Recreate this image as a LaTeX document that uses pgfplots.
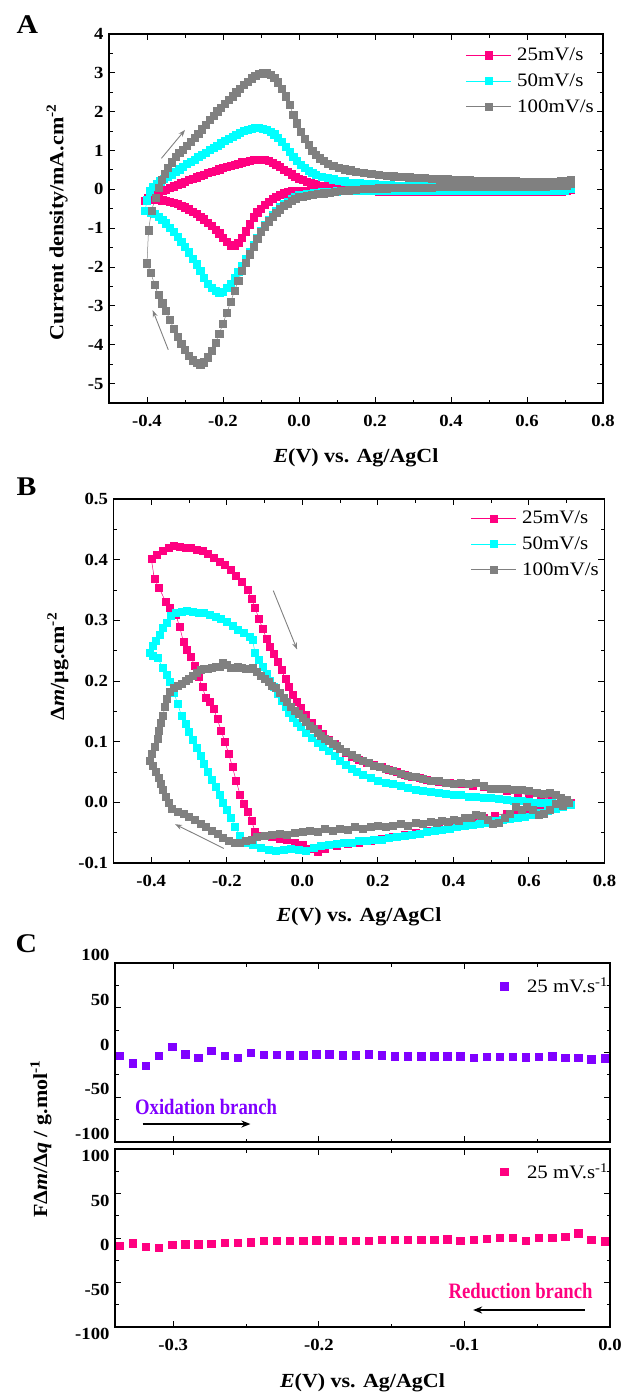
\documentclass[border=0pt]{standalone}
\usepackage{fontspec}
\setmainfont{Liberation Serif}[FakeStretch=1.1]
\newfontfamily\condensed{Liberation Serif}[FakeStretch=0.85]
\usepackage{pgfplots}
\pgfplotsset{compat=1.18}
\usetikzlibrary{arrows.meta}
\definecolor{cpink}{RGB}{255,0,128}
\definecolor{ccyan}{RGB}{0,255,255}
\definecolor{cgrey}{RGB}{128,128,128}
\definecolor{cpurple}{RGB}{128,0,255}
\pgfplotsset{
 myaxis/.style={
   scale only axis,
   axis line style={line width=1.4pt},
   every tick/.append style={line width=1pt, black},
   tick align=inside,
   xtick pos=both, ytick pos=both,
   major tick length=6pt, minor tick length=3.5pt,
   /pgf/number format/assume math mode=true,
   tick label style={font=\fontsize{17}{17}\selectfont\bfseries},
   xticklabel style={yshift=-9pt},
   yticklabel style={xshift=-2pt},
   label style={font=\fontsize{20}{22}\selectfont\bfseries},
   legend style={font=\fontsize{19}{19}\selectfont, draw=none, fill=none, inner sep=0pt, row sep=11.5pt, nodes={inner sep=0pt}, /tikz/every odd column/.append style={column sep=5.5pt}},
   legend cell align=left,
   legend image code/.code={\draw[mark repeat=2,mark phase=2,#1] plot coordinates {(0pt,0pt) (22.5pt,0pt) (45pt,0pt)};},
 },
 cv/.style={line width=0.5pt, color=#1, mark=square*, mark size=3.6pt, mark options={solid, fill=#1, draw=#1}},
 cvb/.style={line width=0.5pt, color=#1, mark=square*, mark size=3.5pt, mark options={solid, fill=#1, draw=#1}},
 fq/.style={only marks, mark=square*, mark size=3.7pt, mark options={fill=#1, draw=#1}, color=#1},
}
\begin{document}
\begin{tikzpicture}
\path[use as bounding box] (0pt,0pt) rectangle (624pt,-1393pt);
\node[font=\fontsize{27}{27}\selectfont\bfseries, anchor=base west] at (13pt,-33pt) {A};
\node[font=\fontsize{27}{27}\selectfont\bfseries, anchor=base west] at (13pt,-495pt) {B};
\node[font=\fontsize{27}{27}\selectfont\bfseries, anchor=base west] at (12pt,-952pt) {C};
% ---------------- Panel A
\begin{axis}[myaxis, at={(109pt,-403pt)}, anchor=south west, width=494pt, height=369pt,
 xmin=-0.5, xmax=0.8, ymin=-5.5, ymax=4,
 xtick={-0.4,-0.2,0,0.2,0.4,0.6,0.8}, minor xtick={-0.5,-0.3,-0.1,0.1,0.3,0.5,0.7},
 ytick={-5,-4,-3,-2,-1,0,1,2,3,4}, minor ytick={-4.5,-3.5,-2.5,-1.5,-0.5,0.5,1.5,2.5,3.5},
 xticklabel style={/pgf/number format/.cd, fixed, fixed zerofill, precision=1, /tikz/.cd},
 xlabel={\textit{E}(V) vs. Ag/AgCl},
 xlabel style={at={(axis description cs:0.5,-0.16)}, anchor=base},
 ylabel={Current density/mA.cm\textsuperscript{-2}},
 ylabel style={at={(axis description cs:-0.105,0.489)}, anchor=center},
 legend style={at={(axis description cs:0.7227,0.962)}, anchor=north west},
]
\addplot[cv=cpink] table {
-0.405 -0.30
-0.398 -0.22
-0.390 -0.17
-0.380 -0.12
-0.370 -0.08
-0.360 -0.04
-0.350 0.00
-0.340 0.04
-0.330 0.08
-0.320 0.12
-0.310 0.16
-0.300 0.20
-0.290 0.24
-0.280 0.28
-0.270 0.31
-0.260 0.35
-0.250 0.38
-0.240 0.42
-0.230 0.45
-0.220 0.48
-0.210 0.52
-0.200 0.55
-0.190 0.58
-0.180 0.61
-0.170 0.64
-0.160 0.67
-0.150 0.70
-0.140 0.72
-0.130 0.74
-0.120 0.76
-0.110 0.77
-0.100 0.77
-0.090 0.76
-0.080 0.73
-0.070 0.69
-0.060 0.64
-0.050 0.58
-0.040 0.51
-0.030 0.45
-0.020 0.39
-0.010 0.33
0.000 0.28
0.010 0.24
0.020 0.20
0.030 0.17
0.045 0.13
0.060 0.10
0.075 0.08
0.090 0.06
0.110 0.04
0.130 0.03
0.150 0.02
0.170 0.02
0.190 0.01
0.210 0.01
0.230 0.01
0.250 0.00
0.270 0.00
0.290 0.00
0.310 0.00
0.330 0.00
0.350 0.00
0.370 0.00
0.390 0.00
0.410 0.00
0.430 0.00
0.450 0.00
0.470 0.00
0.490 0.00
0.510 0.00
0.530 0.00
0.550 0.00
0.570 0.00
0.590 0.00
0.610 0.00
0.630 0.00
0.650 0.00
0.670 0.00
0.690 0.00
0.705 0.01
0.715 0.03
0.715 -0.01
0.705 -0.04
0.690 -0.05
0.670 -0.05
0.650 -0.05
0.630 -0.05
0.610 -0.05
0.590 -0.05
0.570 -0.05
0.550 -0.05
0.530 -0.05
0.510 -0.05
0.490 -0.05
0.470 -0.05
0.450 -0.05
0.430 -0.05
0.410 -0.05
0.390 -0.05
0.370 -0.05
0.350 -0.05
0.330 -0.05
0.310 -0.05
0.290 -0.05
0.270 -0.05
0.250 -0.05
0.230 -0.05
0.210 -0.05
0.190 -0.04
0.170 -0.04
0.150 -0.04
0.130 -0.04
0.110 -0.04
0.090 -0.03
0.070 -0.03
0.050 -0.03
0.030 -0.03
0.015 -0.03
0.000 -0.03
-0.010 -0.04
-0.020 -0.05
-0.030 -0.07
-0.040 -0.10
-0.050 -0.14
-0.060 -0.19
-0.070 -0.25
-0.080 -0.32
-0.090 -0.40
-0.100 -0.49
-0.110 -0.59
-0.120 -0.72
-0.130 -0.90
-0.140 -1.08
-0.150 -1.24
-0.160 -1.37
-0.170 -1.44
-0.180 -1.44
-0.190 -1.35
-0.200 -1.24
-0.210 -1.13
-0.220 -1.03
-0.230 -0.93
-0.240 -0.85
-0.250 -0.77
-0.260 -0.70
-0.270 -0.63
-0.280 -0.57
-0.290 -0.51
-0.300 -0.46
-0.310 -0.42
-0.320 -0.38
-0.330 -0.35
-0.340 -0.32
-0.350 -0.30
-0.360 -0.28
-0.370 -0.27
-0.380 -0.26
-0.390 -0.26
-0.400 -0.28
-0.405 -0.30
};
\addlegendentry{25mV/s}
\addplot[cv=ccyan] table {
-0.405 -0.55
-0.400 -0.28
-0.393 -0.05
-0.385 0.07
-0.375 0.15
-0.365 0.21
-0.355 0.27
-0.345 0.33
-0.335 0.39
-0.325 0.45
-0.315 0.52
-0.305 0.58
-0.295 0.65
-0.285 0.71
-0.275 0.77
-0.265 0.83
-0.255 0.89
-0.245 0.95
-0.235 1.01
-0.225 1.07
-0.215 1.13
-0.205 1.19
-0.195 1.25
-0.185 1.31
-0.175 1.36
-0.165 1.41
-0.155 1.46
-0.145 1.50
-0.135 1.53
-0.125 1.56
-0.115 1.58
-0.105 1.58
-0.095 1.57
-0.085 1.54
-0.075 1.49
-0.065 1.42
-0.055 1.33
-0.045 1.22
-0.035 1.09
-0.025 0.96
-0.015 0.84
-0.005 0.73
0.005 0.63
0.015 0.55
0.025 0.48
0.035 0.42
0.045 0.38
0.060 0.33
0.075 0.29
0.090 0.26
0.105 0.23
0.120 0.21
0.140 0.18
0.160 0.16
0.180 0.14
0.200 0.13
0.220 0.12
0.240 0.11
0.260 0.10
0.280 0.09
0.300 0.09
0.320 0.08
0.340 0.08
0.360 0.07
0.380 0.07
0.400 0.07
0.420 0.06
0.440 0.06
0.460 0.06
0.480 0.06
0.500 0.05
0.520 0.05
0.540 0.05
0.560 0.05
0.580 0.05
0.600 0.05
0.620 0.05
0.640 0.05
0.660 0.05
0.680 0.06
0.700 0.07
0.715 0.09
0.715 0.02
0.700 -0.02
0.680 -0.03
0.660 -0.03
0.640 -0.03
0.620 -0.03
0.600 -0.03
0.580 -0.03
0.560 -0.03
0.540 -0.03
0.520 -0.03
0.500 -0.03
0.480 -0.03
0.460 -0.03
0.440 -0.03
0.420 -0.03
0.400 -0.03
0.380 -0.03
0.360 -0.03
0.340 -0.03
0.320 -0.03
0.300 -0.03
0.280 -0.03
0.260 -0.03
0.240 -0.03
0.220 -0.03
0.200 -0.03
0.180 -0.03
0.160 -0.03
0.140 -0.04
0.120 -0.04
0.100 -0.05
0.080 -0.06
0.060 -0.07
0.040 -0.09
0.020 -0.11
0.010 -0.13
0.000 -0.15
-0.010 -0.19
-0.020 -0.24
-0.030 -0.31
-0.040 -0.38
-0.050 -0.46
-0.060 -0.55
-0.070 -0.66
-0.080 -0.78
-0.090 -0.92
-0.100 -1.08
-0.110 -1.25
-0.120 -1.43
-0.130 -1.62
-0.140 -1.80
-0.150 -1.97
-0.160 -2.13
-0.170 -2.28
-0.180 -2.42
-0.190 -2.54
-0.200 -2.63
-0.210 -2.67
-0.220 -2.62
-0.230 -2.53
-0.240 -2.42
-0.250 -2.27
-0.260 -2.10
-0.270 -1.93
-0.280 -1.78
-0.290 -1.62
-0.300 -1.47
-0.310 -1.34
-0.320 -1.21
-0.330 -1.09
-0.340 -0.98
-0.350 -0.87
-0.360 -0.78
-0.370 -0.70
-0.380 -0.63
-0.390 -0.59
-0.400 -0.56
-0.405 -0.55
};
\addlegendentry{50mV/s}
\addplot[cv=cgrey] table {
-0.400 -1.90
-0.396 -1.05
-0.388 -0.55
-0.378 -0.22
-0.370 0.05
-0.362 0.25
-0.354 0.40
-0.345 0.55
-0.335 0.70
-0.325 0.83
-0.315 0.94
-0.305 1.03
-0.295 1.12
-0.285 1.22
-0.275 1.32
-0.265 1.43
-0.255 1.55
-0.245 1.67
-0.235 1.79
-0.225 1.90
-0.215 2.01
-0.205 2.11
-0.195 2.21
-0.185 2.31
-0.175 2.40
-0.165 2.50
-0.155 2.60
-0.145 2.69
-0.135 2.78
-0.125 2.86
-0.115 2.93
-0.105 2.98
-0.095 3.00
-0.085 2.99
-0.075 2.95
-0.065 2.87
-0.055 2.76
-0.045 2.60
-0.035 2.40
-0.025 2.17
-0.015 1.93
-0.005 1.70
0.005 1.48
0.015 1.30
0.025 1.14
0.035 1.00
0.045 0.89
0.055 0.80
0.065 0.73
0.075 0.67
0.090 0.61
0.105 0.56
0.120 0.52
0.135 0.49
0.150 0.46
0.170 0.43
0.190 0.41
0.210 0.38
0.230 0.36
0.250 0.34
0.270 0.33
0.290 0.31
0.310 0.30
0.330 0.29
0.350 0.28
0.370 0.27
0.390 0.26
0.410 0.25
0.430 0.24
0.450 0.24
0.470 0.23
0.490 0.22
0.510 0.22
0.530 0.21
0.550 0.21
0.570 0.21
0.590 0.20
0.610 0.20
0.630 0.20
0.650 0.20
0.670 0.20
0.690 0.21
0.705 0.22
0.715 0.24
0.715 0.14
0.705 0.10
0.690 0.09
0.670 0.09
0.650 0.08
0.630 0.08
0.610 0.08
0.590 0.08
0.570 0.07
0.550 0.07
0.530 0.07
0.510 0.07
0.490 0.07
0.470 0.07
0.450 0.06
0.430 0.06
0.410 0.06
0.390 0.06
0.370 0.06
0.350 0.05
0.330 0.05
0.310 0.05
0.290 0.05
0.270 0.04
0.250 0.04
0.230 0.03
0.210 0.03
0.190 0.02
0.170 0.01
0.150 -0.01
0.130 -0.02
0.110 -0.04
0.095 -0.06
0.080 -0.08
0.065 -0.10
0.050 -0.12
0.035 -0.14
0.020 -0.16
0.010 -0.18
0.000 -0.20
-0.010 -0.24
-0.020 -0.30
-0.030 -0.36
-0.040 -0.43
-0.050 -0.51
-0.060 -0.60
-0.070 -0.70
-0.080 -0.82
-0.090 -0.95
-0.100 -1.10
-0.110 -1.28
-0.120 -1.47
-0.130 -1.67
-0.140 -1.88
-0.150 -2.10
-0.160 -2.35
-0.170 -2.62
-0.180 -2.90
-0.190 -3.18
-0.200 -3.45
-0.210 -3.72
-0.220 -3.95
-0.230 -4.15
-0.240 -4.32
-0.250 -4.45
-0.260 -4.50
-0.270 -4.47
-0.280 -4.40
-0.290 -4.28
-0.300 -4.12
-0.310 -3.98
-0.320 -3.80
-0.330 -3.58
-0.340 -3.35
-0.350 -3.12
-0.360 -2.93
-0.370 -2.72
-0.380 -2.45
-0.390 -2.15
-0.400 -1.90
};
\addlegendentry{100mV/s}
\draw[cgrey, line width=0.9pt, -{Stealth[length=7pt,width=5pt]}] (axis cs:-0.362,0.80) -- (axis cs:-0.300,1.53);
\draw[cgrey, line width=0.9pt, -{Stealth[length=7pt,width=5pt]}] (axis cs:-0.344,-4.13) -- (axis cs:-0.385,-3.11);
\end{axis}
% ---------------- Panel B
\begin{axis}[myaxis, at={(113.5pt,-863pt)}, anchor=south west, width=491pt, height=364pt,
 xmin=-0.5, xmax=0.8, ymin=-0.1, ymax=0.5,
 xtick={-0.4,-0.2,0,0.2,0.4,0.6,0.8}, minor xtick={-0.5,-0.3,-0.1,0.1,0.3,0.5,0.7},
 ytick={-0.1,0,0.1,0.2,0.3,0.4,0.5}, minor ytick={-0.05,0.05,0.15,0.25,0.35,0.45},
 xticklabel style={/pgf/number format/.cd, fixed, fixed zerofill, precision=1, /tikz/.cd},
 yticklabel style={/pgf/number format/.cd, fixed, fixed zerofill, precision=1, /tikz/.cd},
 xlabel={\textit{E}(V) vs. Ag/AgCl},
 xlabel style={at={(axis description cs:0.5,-0.162)}, anchor=base},
 ylabel={Δ\textit{m}/μg.cm\textsuperscript{-2}},
 ylabel style={at={(axis description cs:-0.113,0.54)}, anchor=center},
 legend style={at={(axis description cs:0.728,0.967)}, anchor=north west},
]
\addplot[cvb=cpink] table {
-0.400 0.402
-0.385 0.408
-0.370 0.414
-0.355 0.420
-0.340 0.423
-0.325 0.422
-0.310 0.420
-0.295 0.419
-0.280 0.417
-0.265 0.414
-0.250 0.409
-0.235 0.403
-0.220 0.397
-0.205 0.391
-0.190 0.384
-0.175 0.374
-0.160 0.364
-0.145 0.350
-0.135 0.336
-0.125 0.320
-0.115 0.303
-0.105 0.286
-0.095 0.270
-0.085 0.257
-0.075 0.245
-0.065 0.232
-0.055 0.218
-0.045 0.203
-0.035 0.190
-0.025 0.177
-0.015 0.165
-0.005 0.156
0.010 0.145
0.025 0.132
0.040 0.122
0.055 0.113
0.070 0.104
0.085 0.096
0.100 0.088
0.115 0.082
0.130 0.075
0.150 0.070
0.170 0.066
0.190 0.062
0.210 0.058
0.230 0.054
0.250 0.050
0.270 0.046
0.290 0.042
0.310 0.040
0.330 0.037
0.360 0.034
0.390 0.032
0.420 0.030
0.450 0.028
0.480 0.025
0.510 0.022
0.540 0.019
0.570 0.016
0.600 0.012
0.630 0.008
0.660 0.005
0.690 0.002
0.710 0.000
0.690 -0.005
0.660 -0.008
0.630 -0.010
0.600 -0.012
0.570 -0.015
0.540 -0.018
0.510 -0.022
0.480 -0.026
0.450 -0.030
0.420 -0.034
0.390 -0.038
0.360 -0.042
0.330 -0.046
0.300 -0.050
0.270 -0.053
0.240 -0.056
0.210 -0.060
0.180 -0.063
0.150 -0.066
0.120 -0.069
0.090 -0.072
0.060 -0.076
0.040 -0.082
0.020 -0.076
0.000 -0.070
-0.020 -0.066
-0.040 -0.062
-0.060 -0.060
-0.080 -0.057
-0.100 -0.055
-0.115 -0.055
-0.125 -0.048
-0.135 -0.030
-0.145 -0.015
-0.155 -0.003
-0.165 0.013
-0.175 0.035
-0.185 0.058
-0.195 0.080
-0.205 0.100
-0.215 0.118
-0.225 0.137
-0.235 0.155
-0.245 0.165
-0.255 0.172
-0.265 0.190
-0.275 0.207
-0.285 0.225
-0.295 0.240
-0.305 0.252
-0.315 0.265
-0.325 0.290
-0.335 0.309
-0.350 0.320
-0.362 0.331
-0.379 0.353
-0.392 0.369
-0.400 0.402
};
\addlegendentry{25mV/s}
\addplot[cvb=ccyan] table {
-0.405 0.246
-0.395 0.258
-0.388 0.266
-0.378 0.277
-0.370 0.287
-0.360 0.296
-0.348 0.307
-0.335 0.312
-0.320 0.314
-0.305 0.315
-0.290 0.314
-0.275 0.313
-0.260 0.312
-0.245 0.309
-0.230 0.306
-0.215 0.302
-0.200 0.297
-0.185 0.291
-0.170 0.285
-0.155 0.279
-0.140 0.273
-0.132 0.268
-0.125 0.246
-0.115 0.235
-0.105 0.224
-0.095 0.212
-0.085 0.201
-0.075 0.190
-0.065 0.179
-0.055 0.168
-0.045 0.158
-0.035 0.148
-0.025 0.139
-0.015 0.131
-0.005 0.124
0.010 0.115
0.025 0.107
0.040 0.099
0.055 0.092
0.070 0.085
0.085 0.077
0.100 0.069
0.115 0.062
0.130 0.056
0.145 0.050
0.160 0.045
0.180 0.040
0.200 0.036
0.220 0.033
0.240 0.030
0.260 0.027
0.280 0.024
0.300 0.021
0.320 0.019
0.340 0.017
0.360 0.016
0.380 0.014
0.400 0.013
0.420 0.012
0.440 0.010
0.460 0.009
0.480 0.008
0.500 0.007
0.520 0.006
0.540 0.005
0.560 0.003
0.580 0.002
0.600 0.001
0.620 0.000
0.640 -0.001
0.660 -0.001
0.680 -0.002
0.700 -0.002
0.710 -0.004
0.690 -0.008
0.670 -0.011
0.650 -0.014
0.630 -0.017
0.610 -0.020
0.590 -0.023
0.570 -0.025
0.550 -0.027
0.530 -0.029
0.510 -0.031
0.490 -0.033
0.470 -0.035
0.450 -0.037
0.430 -0.039
0.410 -0.041
0.390 -0.043
0.370 -0.045
0.350 -0.047
0.330 -0.049
0.310 -0.051
0.290 -0.053
0.270 -0.055
0.250 -0.057
0.230 -0.059
0.210 -0.061
0.190 -0.062
0.170 -0.063
0.150 -0.064
0.130 -0.066
0.110 -0.067
0.090 -0.068
0.070 -0.070
0.050 -0.072
0.030 -0.075
0.010 -0.079
-0.010 -0.078
-0.030 -0.077
-0.050 -0.078
-0.070 -0.079
-0.090 -0.078
-0.110 -0.075
-0.130 -0.070
-0.150 -0.066
-0.165 -0.055
-0.178 -0.040
-0.190 -0.025
-0.200 -0.012
-0.210 0.000
-0.220 0.013
-0.230 0.025
-0.240 0.038
-0.250 0.051
-0.260 0.063
-0.270 0.077
-0.280 0.090
-0.290 0.103
-0.300 0.116
-0.310 0.130
-0.320 0.143
-0.330 0.162
-0.340 0.181
-0.350 0.198
-0.360 0.210
-0.370 0.222
-0.383 0.238
-0.395 0.242
-0.405 0.246
};
\addlegendentry{50mV/s}
\addplot[cvb=cgrey] table {
-0.405 0.069
-0.398 0.080
-0.390 0.092
-0.384 0.105
-0.379 0.118
-0.374 0.131
-0.369 0.143
-0.364 0.158
-0.358 0.170
-0.350 0.182
-0.340 0.189
-0.330 0.193
-0.320 0.196
-0.310 0.200
-0.300 0.203
-0.290 0.208
-0.280 0.214
-0.270 0.218
-0.260 0.220
-0.250 0.221
-0.240 0.222
-0.230 0.223
-0.220 0.224
-0.210 0.230
-0.200 0.226
-0.190 0.222
-0.180 0.222
-0.170 0.223
-0.160 0.222
-0.150 0.221
-0.140 0.221
-0.130 0.222
-0.120 0.216
-0.110 0.208
-0.100 0.203
-0.090 0.198
-0.080 0.193
-0.070 0.189
-0.060 0.181
-0.050 0.173
-0.040 0.165
-0.030 0.157
-0.020 0.151
-0.010 0.146
0.000 0.139
0.010 0.133
0.020 0.127
0.030 0.121
0.040 0.115
0.050 0.110
0.060 0.105
0.070 0.101
0.080 0.097
0.090 0.093
0.100 0.089
0.115 0.084
0.130 0.078
0.145 0.073
0.160 0.069
0.175 0.065
0.190 0.060
0.205 0.058
0.220 0.055
0.240 0.052
0.260 0.047
0.280 0.044
0.300 0.042
0.320 0.039
0.340 0.036
0.360 0.035
0.380 0.032
0.400 0.030
0.420 0.033
0.440 0.031
0.460 0.032
0.480 0.027
0.500 0.023
0.520 0.023
0.540 0.022
0.560 0.021
0.580 0.020
0.600 0.019
0.620 0.016
0.640 0.014
0.655 0.015
0.670 0.012
0.685 0.008
0.700 0.004
0.705 0.000
0.690 -0.005
0.670 -0.003
0.655 -0.012
0.640 -0.018
0.625 -0.020
0.610 -0.012
0.595 -0.008
0.580 -0.012
0.565 -0.008
0.550 -0.018
0.535 -0.026
0.520 -0.033
0.505 -0.036
0.490 -0.028
0.475 -0.022
0.460 -0.020
0.445 -0.026
0.430 -0.025
0.415 -0.030
0.400 -0.029
0.385 -0.032
0.370 -0.030
0.355 -0.033
0.340 -0.032
0.320 -0.036
0.300 -0.034
0.280 -0.038
0.260 -0.036
0.240 -0.038
0.220 -0.040
0.200 -0.039
0.180 -0.040
0.160 -0.043
0.140 -0.040
0.120 -0.045
0.100 -0.043
0.080 -0.046
0.060 -0.044
0.040 -0.048
0.020 -0.047
0.000 -0.049
-0.020 -0.050
-0.040 -0.053
-0.060 -0.051
-0.080 -0.053
-0.100 -0.055
-0.120 -0.056
-0.135 -0.062
-0.150 -0.064
-0.165 -0.066
-0.180 -0.066
-0.195 -0.063
-0.210 -0.058
-0.225 -0.052
-0.240 -0.047
-0.255 -0.041
-0.270 -0.035
-0.285 -0.029
-0.300 -0.024
-0.315 -0.019
-0.330 -0.015
-0.345 -0.010
-0.355 -0.001
-0.362 0.010
-0.369 0.020
-0.375 0.030
-0.381 0.040
-0.387 0.050
-0.395 0.060
-0.405 0.069
};
\addlegendentry{100mV/s}
\draw[cgrey, line width=0.9pt, -{Stealth[length=7pt,width=5pt]}] (axis cs:-0.077,0.349) -- (axis cs:-0.014,0.252);
\draw[cgrey, line width=0.9pt, -{Stealth[length=7pt,width=5pt]}] (axis cs:-0.208,-0.076) -- (axis cs:-0.337,-0.036);
\end{axis}
% ---------------- Panel C (top)
\begin{axis}[myaxis, at={(115pt,-1142pt)}, anchor=south west, width=495pt, height=179pt,
 xmin=-0.34, xmax=0, ymin=-100, ymax=100,
 xtick={-0.3,-0.2,-0.1,0}, minor xtick={-0.25,-0.15,-0.05}, xticklabels={},
 ytick={-100,-50,0,50,100}, minor ytick={-75,-25,25,75},
 yticklabel style={yshift=8pt},
 legend style={at={(axis description cs:0.7786,0.8715)}, anchor=west, /tikz/every odd column/.append style={column sep=19pt}},
 legend image code/.code={\draw[#1] plot coordinates {(0pt,0pt)};},
]
\addplot[fq=cpurple] table {
-0.3368 -3.6
-0.3278 -12.1
-0.3188 -14.8
-0.3098 -3.6
-0.3008 6.5
-0.2918 -1.7
-0.2828 -5.8
-0.2738 2.1
-0.2648 -3.6
-0.2558 -5.8
-0.2468 -0.2
-0.2378 -2.4
-0.2288 -2.4
-0.2198 -3.2
-0.2108 -3.2
-0.2018 -2.1
-0.1928 -2.1
-0.1838 -3.2
-0.1748 -3.2
-0.1658 -2.1
-0.1568 -3.2
-0.1478 -3.9
-0.1388 -3.9
-0.1298 -3.9
-0.1208 -3.9
-0.1118 -3.9
-0.1028 -3.9
-0.0938 -5.8
-0.0848 -5.0
-0.0758 -4.7
-0.0668 -4.7
-0.0578 -5.4
-0.0488 -4.7
-0.0398 -4.3
-0.0308 -5.8
-0.0218 -5.8
-0.0128 -7.3
-0.0038 -6.5
};
\addlegendentry{25 mV.s\textsuperscript{-1}}
\node[anchor=base west, text=cpurple, font=\condensed\fontsize{22}{22}\selectfont\bfseries] at (axis cs:-0.3286,-69.8) {Oxidation branch};
\draw[black, line width=1.6pt, -{Stealth[length=9pt,width=7pt]}] (axis cs:-0.321,-79.9) -- (axis cs:-0.247,-79.9);
\end{axis}
% ---------------- Panel C (bottom)
\begin{axis}[myaxis, at={(115pt,-1327pt)}, anchor=south west, width=495pt, height=178pt,
 xmin=-0.34, xmax=0, ymin=-100, ymax=100,
 xtick={-0.3,-0.2,-0.1,0}, minor xtick={-0.25,-0.15,-0.05},
 xticklabel style={/pgf/number format/.cd, fixed, fixed zerofill, precision=1, /tikz/.cd},
 ytick={-100,-50,0,50,100}, minor ytick={-75,-25,25,75},
 yticklabel style={yshift=-7pt},
 xlabel={\textit{E}(V) vs. Ag/AgCl},
 xlabel style={at={(axis description cs:0.5,-0.337)}, anchor=base},
 legend style={at={(axis description cs:0.7786,0.8715)}, anchor=west, /tikz/every odd column/.append style={column sep=19pt}},
 legend image code/.code={\draw[#1] plot coordinates {(0pt,0pt)};},
]
\addplot[fq=cpink] table {
-0.3368 -8.8
-0.3278 -5.8
-0.3188 -9.5
-0.3098 -10.6
-0.3008 -7.6
-0.2918 -6.9
-0.2828 -6.9
-0.2738 -6.1
-0.2648 -5.4
-0.2558 -5.4
-0.2468 -4.7
-0.2378 -3.2
-0.2288 -3.2
-0.2198 -2.8
-0.2108 -2.8
-0.2018 -2.4
-0.1928 -2.4
-0.1838 -3.2
-0.1748 -3.2
-0.1658 -2.8
-0.1568 -1.7
-0.1478 -1.7
-0.1388 -1.7
-0.1298 -1.7
-0.1208 -1.7
-0.1118 -1.3
-0.1028 -2.8
-0.0938 -1.7
-0.0848 -0.6
-0.0758 0.6
-0.0668 0.6
-0.0578 -2.8
-0.0488 0.6
-0.0398 0.6
-0.0308 1.7
-0.0218 5.4
-0.0128 -1.7
-0.0038 -3.5
};
\addlegendentry{25 mV.s\textsuperscript{-1}}
\node[anchor=base east, text=cpink, font=\condensed\fontsize{22}{22}\selectfont\bfseries] at (axis cs:-0.0096,-68.5) {Reduction branch};
\draw[black, line width=1.6pt, -{Stealth[length=9pt,width=7pt]}] (axis cs:-0.0172,-80.9) -- (axis cs:-0.094,-80.9);
\end{axis}
\node[rotate=90, anchor=center, font=\fontsize{20}{22}\selectfont\bfseries] at (41pt,-1139pt) {FΔ\textit{m}/Δ\textit{q} / g.mol\textsuperscript{-1}};
\end{tikzpicture}
\end{document}
